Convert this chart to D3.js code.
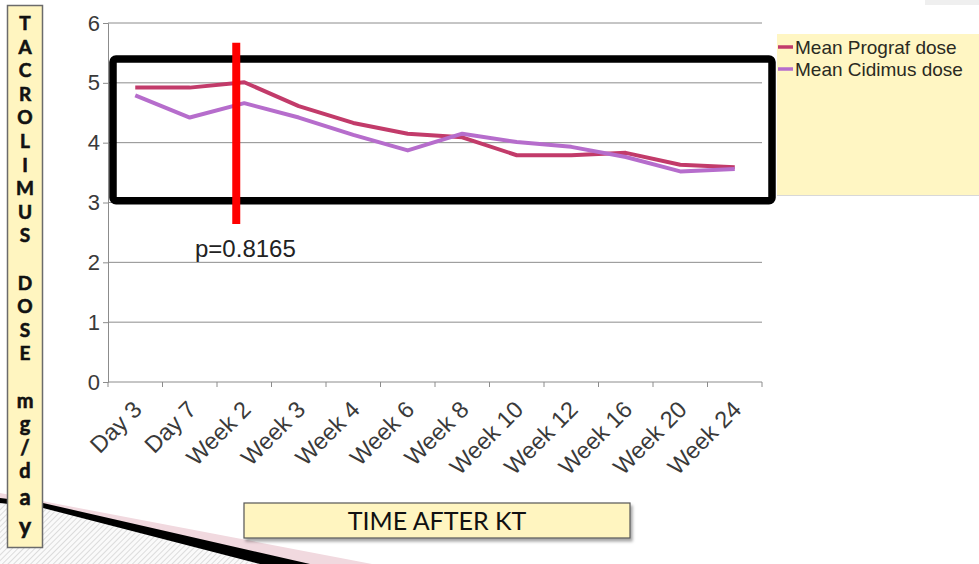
<!DOCTYPE html>
<html>
<head>
<meta charset="utf-8">
<script src="https://cdn.jsdelivr.net/npm/d3@7/dist/d3.min.js"></script>
<style>
  html, body { margin: 0; padding: 0; background: #fff; }
  svg { display: block; }
</style>
</head>
<body>
<svg id="chart" width="979" height="564"></svg>
<script>
// ---------- DATA ----------
const categories = ["Day 3","Day 7","Week 2","Week 3","Week 4","Week 6","Week 8","Week 10","Week 12","Week 16","Week 20","Week 24"];
const prograf = [4.92, 4.92, 5.01, 4.61, 4.33, 4.15, 4.09, 3.79, 3.79, 3.83, 3.63, 3.59];
const cidimus = [4.79, 4.42, 4.66, 4.42, 4.13, 3.87, 4.15, 4.01, 3.93, 3.76, 3.52, 3.56];
const yTicks = [0, 1, 2, 3, 4, 5, 6];
const seriesNames = ["Mean Prograf dose", "Mean Cidimus dose"];
const yTitleLetters = ["T","A","C","R","O","L","I","M","U","S"," ","D","O","S","E"," ","m","g","/","d","a","y"];
const xTitle = "TIME AFTER KT";
const pLabel = "p=0.8165";

// ---------- SETUP ----------
const svg = d3.select("#chart");
const x = d3.scaleBand().domain(categories).range([108, 762]).padding(0);
const y = d3.scaleLinear().domain([0, 6]).range([382, 23]);
const colors = ["#c23b6a", "#b66dcc"];
const tickFont = "'Liberation Sans', Arial, sans-serif";

// defs: hatch pattern, shadow
const defs = svg.append("defs");
const pat = defs.append("pattern").attr("id", "hatch").attr("patternUnits", "userSpaceOnUse")
  .attr("width", 4).attr("height", 4).attr("patternTransform", "rotate(45)");
pat.append("rect").attr("width", 4).attr("height", 4).attr("fill", "#fafafa");
pat.append("line").attr("x1", 0).attr("y1", 0).attr("x2", 0).attr("y2", 4).attr("stroke", "#c8c8c8").attr("stroke-width", 1.2);
const flt = defs.append("filter").attr("id", "shadow").attr("x", "-5%").attr("y", "-20%").attr("width", "115%").attr("height", "160%");
flt.append("feDropShadow").attr("dx", 2).attr("dy", 3).attr("stdDeviation", 1.5).attr("flood-color", "#000").attr("flood-opacity", 0.35);

// top-right light gray strip
svg.append("rect").attr("x", 925).attr("y", 0).attr("width", 54).attr("height", 5).attr("fill", "#efefef");

// ---------- bottom-left decoration ----------
svg.append("polygon").attr("points", "0,493 372,564 0,564").attr("fill", "#f1d9df");
svg.append("polygon").attr("points", "0,500 43,507 275,564 0,564").attr("fill", "url(#hatch)");
svg.append("polygon").attr("points", "0,498 43,503 310,564 260,564 43,508 0,503").attr("fill", "#000");

// ---------- gridlines ----------
svg.append("g").selectAll("line").data(yTicks.filter(d => d > 0)).join("line")
  .attr("x1", x.range()[0]).attr("x2", x.range()[1])
  .attr("y1", d => y(d)).attr("y2", d => y(d))
  .attr("stroke", "#8c8c8c").attr("stroke-width", 1);

// ---------- axes ----------
const yAxis = svg.append("g").attr("transform", `translate(${x.range()[0]},0)`)
  .call(d3.axisLeft(y).tickValues(yTicks).tickSize(5).tickPadding(3).tickFormat(d3.format("d")));
yAxis.select(".domain").attr("stroke", "#8c8c8c");
yAxis.selectAll(".tick line").attr("stroke", "#8c8c8c");
yAxis.selectAll("text").attr("font-family", tickFont).attr("font-size", 22).attr("fill", "#3a3a3a");

const xAxis = svg.append("g").attr("transform", `translate(0,${y(0)})`);
xAxis.append("line").attr("x1", x.range()[0]).attr("x2", x.range()[1]).attr("y1", 0).attr("y2", 0)
  .attr("stroke", "#8c8c8c");
const boundaries = categories.map(c => x(c)).concat([x.range()[1]]);
xAxis.selectAll(".bt").data(boundaries).join("line").attr("class", "bt")
  .attr("x1", d => d).attr("x2", d => d).attr("y1", 0).attr("y2", 5)
  .attr("stroke", "#8c8c8c");
xAxis.selectAll(".xl").data(categories).join("text").attr("class", "xl")
  .attr("transform", d => `translate(${x(d) + x.bandwidth() / 2 + 8},${29}) rotate(-45)`)
  .attr("text-anchor", "end")
  .attr("font-family", tickFont).attr("font-size", 23.5).attr("fill", "#3a3a3a")
  .text(d => d);

// ---------- black annotation rectangle ----------
svg.append("rect")
  .attr("x", x.range()[0] + 5).attr("y", y(5.4))
  .attr("width", x.range()[1] + 10 - (x.range()[0] + 5)).attr("height", y(3.03) - y(5.4))
  .attr("rx", 3).attr("fill", "none").attr("stroke", "#000").attr("stroke-width", 7.5);

// ---------- lines ----------
const line = d3.line().x((d, i) => x(categories[i]) + x.bandwidth() / 2).y(d => y(d));
[prograf, cidimus].forEach((s, k) => {
  svg.append("path").datum(s).attr("d", line)
    .attr("fill", "none").attr("stroke", colors[k]).attr("stroke-width", 4)
    .attr("stroke-linejoin", "round");
});

// ---------- red vertical line & p value ----------
const rx = x("Week 2") + x.bandwidth() / 2 - 8;
svg.append("line").attr("x1", rx).attr("x2", rx).attr("y1", y(5.67)).attr("y2", y(2.64))
  .attr("stroke", "#ff0000").attr("stroke-width", 8);
svg.append("text").attr("x", 195).attr("y", 257)
  .attr("font-family", tickFont).attr("font-size", 24).attr("fill", "#222")
  .text(pLabel);

// ---------- legend ----------
svg.append("rect").attr("x", 777).attr("y", 34).attr("width", 202).attr("height", 161)
  .attr("fill", "#fff6c3");
svg.append("line").attr("x1", 777).attr("x2", 979).attr("y1", 195.5).attr("y2", 195.5).attr("stroke", "#d8d8d8");
seriesNames.forEach((n, k) => {
  const ly = 47 + k * 22;
  svg.append("line").attr("x1", 778).attr("x2", 793).attr("y1", ly).attr("y2", ly)
    .attr("stroke", colors[k]).attr("stroke-width", 3.5);
  svg.append("text").attr("x", 795).attr("y", ly + 7)
    .attr("font-family", tickFont).attr("font-size", 19).attr("fill", "#2a2a22")
    .text(n);
});

// ---------- y-axis title box ----------
svg.append("rect").attr("x", 7.5).attr("y", 5.5).attr("width", 35).attr("height", 542)
  .attr("fill", "#fff5c0").attr("stroke", "#6b6b6b").attr("stroke-width", 1.5);
const letterSize = l => (l === "a" ? 22 : l === "y" ? 23 : /[a-z\/]/.test(l) ? 20 : 19);
const letterShift = l => (l === "a" ? 3 : l === "y" ? 8 : 0);
svg.append("g").selectAll("text").data(yTitleLetters).join("text")
  .attr("x", 25)
  .attr("y", (d, i) => 30 + i * 23.6 + letterShift(d))
  .attr("text-anchor", "middle")
  .attr("font-family", "Lato, 'Open Sans', sans-serif").attr("font-weight", "bold")
  .attr("stroke", "#111").attr("stroke-width", 0.6)
  .attr("font-size", d => letterSize(d)).attr("fill", "#111")
  .text(d => d);

// ---------- x-axis title box ----------
svg.append("rect").attr("x", 244).attr("y", 503).attr("width", 386).attr("height", 35)
  .attr("fill", "#fff5c0").attr("stroke", "#555").attr("stroke-width", 1.2)
  .attr("filter", "url(#shadow)");
svg.append("text").attr("x", 437).attr("y", 529.5).attr("text-anchor", "middle")
  .attr("font-family", "Lato, sans-serif").attr("font-size", 25).attr("fill", "#111")
  .text(xTitle);
</script>
</body>
</html>
